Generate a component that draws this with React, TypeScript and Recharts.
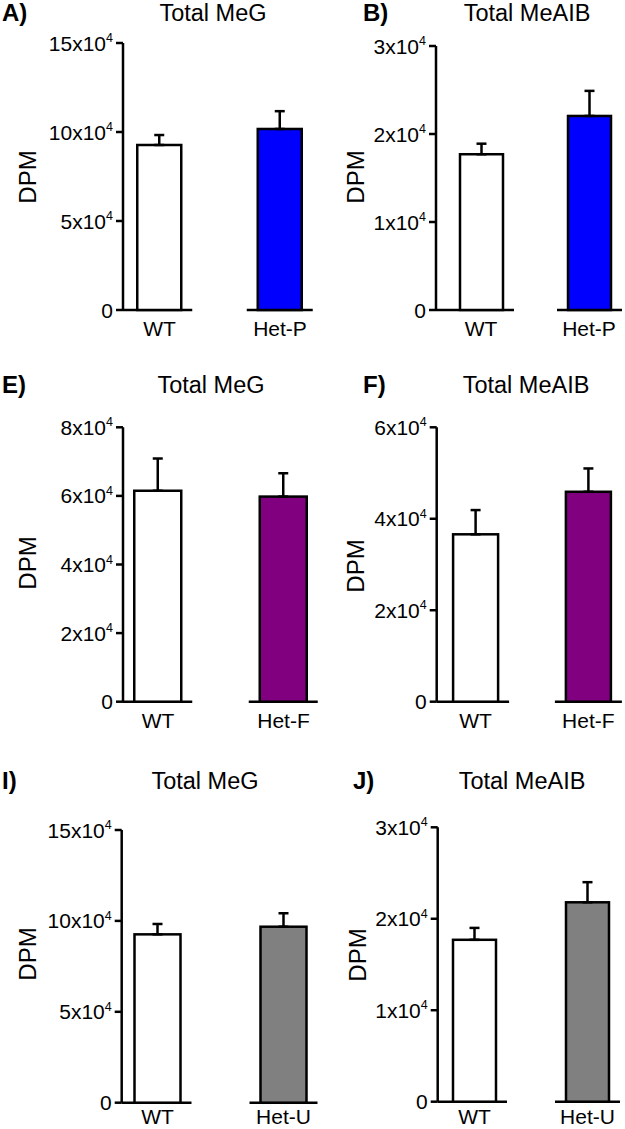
import React from "react";
import { BarChart, Bar, XAxis, YAxis, ErrorBar } from "recharts";

const FONT = "'Liberation Sans', Arial, Helvetica, sans-serif";
const SW = 2.5;

// ---------- data ----------
const categoriesP = ["WT", "Het-P"];
const categoriesF = ["WT", "Het-F"];
const categoriesU = ["WT", "Het-U"];

const megP = [92700, 101700];
const megPErr = [5600, 10000];
const meaibP = [17700, 22050];
const meaibPErr = [1200, 2850];

const megF = [61500, 59800];
const megFErr = [9400, 6800];
const meaibF = [36600, 45900];
const meaibFErr = [5300, 5100];

const megU = [92600, 96800];
const megUErr = [5700, 7400];
const meaibU = [17700, 21800];
const meaibUErr = [1300, 2200];

const ticksMeG15 = [0, 50000, 100000, 150000];
const ticksMeAIB3 = [0, 10000, 20000, 30000];
const ticksMeG8 = [0, 20000, 40000, 60000, 80000];
const ticksMeAIB6 = [0, 20000, 40000, 60000];

const titleMeG = "Total MeG";
const titleMeAIB = "Total MeAIB";
const yLabel = "DPM";

const buildRows = (cats: string[], means: number[], errs: number[]) =>
  cats.map((name, i) => ({ name, mean: means[i], err: [0, errs[i]] }));

// ---------- layout ----------
type PanelCfg = {
  letter: string;
  title: string;
  cats: string[];
  means: number[];
  errs: number[];
  ticks: number[];
  color: string;
  L: number; T: number; W: number;
  axisX: number; topY: number; zeroY: number;
  c1: number; c2: number; barSize: number;
  letterX: number; titleX: number; textY: number;
  dpmX: number; dpmY: number; xLabDy: number;
};

const panels: PanelCfg[] = [
  { letter: "A)", title: titleMeG, cats: categoriesP, means: megP, errs: megPErr, ticks: ticksMeG15, color: "#0000ff",
    L: 0, T: 20, W: 345, axisX: 123, topY: 43, zeroY: 310, c1: 159.5, c2: 280, barSize: 44,
    letterX: 2, titleX: 213, textY: 20.5, dpmX: 27, dpmY: 177, xLabDy: 26 },
  { letter: "B)", title: titleMeAIB, cats: categoriesP, means: meaibP, errs: meaibPErr, ticks: ticksMeAIB3, color: "#0000ff",
    L: 310, T: 20, W: 315, axisX: 436, topY: 46, zeroY: 310, c1: 481, c2: 589, barSize: 43,
    letterX: 363, titleX: 527, textY: 20.5, dpmX: 355, dpmY: 177, xLabDy: 26 },
  { letter: "E)", title: titleMeG, cats: categoriesF, means: megF, errs: megFErr, ticks: ticksMeG8, color: "#800080",
    L: 0, T: 400, W: 345, axisX: 123, topY: 427.3, zeroY: 701.7, c1: 158, c2: 283.5, barSize: 47,
    letterX: 2, titleX: 211, textY: 392.7, dpmX: 27, dpmY: 563, xLabDy: 26 },
  { letter: "F)", title: titleMeAIB, cats: categoriesF, means: meaibF, errs: meaibFErr, ticks: ticksMeAIB6, color: "#800080",
    L: 310, T: 400, W: 315, axisX: 436.7, topY: 427.3, zeroY: 701.7, c1: 475.5, c2: 588.3, barSize: 45,
    letterX: 363, titleX: 526, textY: 392.7, dpmX: 355, dpmY: 566, xLabDy: 26 },
  { letter: "I)", title: titleMeG, cats: categoriesU, means: megU, errs: megUErr, ticks: ticksMeG15, color: "#808080",
    L: 0, T: 800, W: 345, axisX: 121.7, topY: 830, zeroY: 1102.7, c1: 157.5, c2: 283.5, barSize: 46,
    letterX: 2, titleX: 205, textY: 789, dpmX: 27, dpmY: 954, xLabDy: 21.5 },
  { letter: "J)", title: titleMeAIB, cats: categoriesU, means: meaibU, errs: meaibUErr, ticks: ticksMeAIB3, color: "#808080",
    L: 310, T: 800, W: 315, axisX: 437.7, topY: 827.3, zeroY: 1101.7, c1: 474.5, c2: 587.5, barSize: 43,
    letterX: 353, titleX: 522, textY: 789, dpmX: 357, dpmY: 955, xLabDy: 22 },
];

const YTick = (props: any) => {
  const { x, y, payload } = props;
  const v = payload.value as number;
  if (v === 0) {
    return (
      <text x={x} y={y} dy="0.36em" textAnchor="end" fontSize={21} fontFamily={FONT} fill="#000">0</text>
    );
  }
  return (
    <text x={x} y={y} dy="0.36em" textAnchor="end" fontSize={21} fontFamily={FONT} fill="#000">
      {v / 10000}x10<tspan dy={-8.5} fontSize={12.5}>4</tspan>
    </text>
  );
};

const makeXTick = (dyPx: number) => (props: any) => {
  const { x, y, payload } = props;
  return (
    <text x={x} y={y + dyPx} textAnchor="middle" fontSize={21} fontFamily={FONT} fill="#000">{payload.value}</text>
  );
};

const makeShape = (fills: string[], plotLeft: number) => (props: any) => {
  const { x, y, width, height, index } = props;
  const base = y + height;
  const cx = x + width / 2;
  const half = width / 2 + 11;
  const x0 = index === 0 ? plotLeft : cx - half;
  return (
    <g>
      <line x1={x0} x2={cx + half} y1={base} y2={base} stroke="#000" strokeWidth={SW} />
      <rect x={x} y={y} width={width} height={height} fill={fills[index]} stroke="#000" strokeWidth={SW} />
    </g>
  );
};

const Panel = ({ p }: { p: PanelCfg }) => {
  const H = p.zeroY - p.T + 32;
  const yAxisW = p.axisX - p.L;
  const b = p.c2 - p.c1;
  const padLeft = p.c1 - b / 2 - p.axisX;
  const padRight = p.L + p.W - (p.c2 + b / 2);
  const rows = buildRows(p.cats, p.means, p.errs);
  const max = p.ticks[p.ticks.length - 1];
  const XTick = makeXTick(p.xLabDy);
  return (
    <div style={{ position: "absolute", left: p.L, top: p.T, width: p.W, height: H }}>
      <BarChart
        width={p.W}
        height={H}
        data={rows}
        margin={{ top: p.topY - p.T, right: 0, left: 0, bottom: 0 }}
        style={{ overflow: "visible" }}
      >
        <XAxis
          dataKey="name"
          type="category"
          axisLine={false}
          tickLine={false}
          tickSize={0}
          tickMargin={0}
          height={H - (p.zeroY - p.T)}
          padding={{ left: padLeft, right: padRight }}
          tick={<XTick />}
          interval={0}
        />
        <YAxis
          type="number"
          domain={[0, max]}
          ticks={p.ticks}
          interval={0}
          width={yAxisW}
          axisLine={{ stroke: "#000", strokeWidth: SW }}
          tickLine={{ stroke: "#000", strokeWidth: SW }}
          tickSize={7}
          tickMargin={3}
          tick={<YTick />}
        />
        <Bar
          dataKey="mean"
          barSize={p.barSize}
          isAnimationActive={false}
          shape={makeShape(["#ffffff", p.color], yAxisW)}
        >
          <ErrorBar dataKey="err" width={5} strokeWidth={SW} stroke="#000" direction="y" />
        </Bar>
      </BarChart>
    </div>
  );
};

export default function App() {
  return (
    <div
      style={{
        position: "absolute",
        left: 0,
        top: 0,
        width: 625,
        height: 1129,
        overflow: "hidden",
        background: "#fff",
        fontFamily: FONT,
      }}
    >
      {panels.map((p) => (
        <Panel key={p.letter} p={p} />
      ))}
      <svg
        width={625}
        height={1129}
        style={{ position: "absolute", left: 0, top: 0, pointerEvents: "none" }}
      >
        {panels.map((p) => (
          <g key={p.letter}>
            <text x={p.letterX} y={p.textY} fontSize={24} fontWeight="bold" fontFamily={FONT} fill="#000">
              {p.letter}
            </text>
            <text x={p.titleX} y={p.textY} fontSize={23.5} textAnchor="middle" fontFamily={FONT} fill="#000">
              {p.title}
            </text>
            <text
              transform={`translate(${p.dpmX},${p.dpmY}) rotate(-90)`}
              textAnchor="middle"
              dy="0.36em"
              fontSize={24}
              fontFamily={FONT}
              fill="#000"
            >
              {yLabel}
            </text>
          </g>
        ))}
      </svg>
    </div>
  );
}
